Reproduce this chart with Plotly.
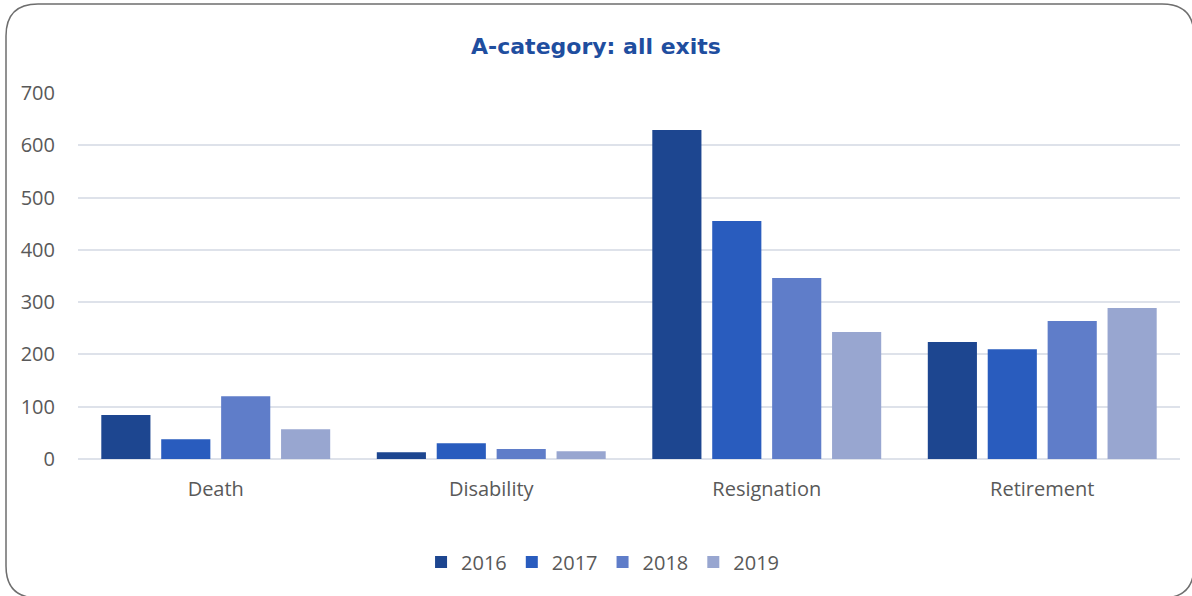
import plotly.graph_objects as go

categories = ["Death", "Disability", "Resignation", "Retirement"]
years = ["2016", "2017", "2018", "2019"]
v2016 = [84, 13, 629, 224]
v2017 = [38, 30, 455, 210]
v2018 = [120, 19, 346, 264]
v2019 = [57, 15, 243, 289]
y_ticks = [0, 100, 200, 300, 400, 500, 600, 700]

series = [v2016, v2017, v2018, v2019]
colors = ["#1D4690", "#295CBE", "#5F7DC9", "#98A6D0"]

W, H = 1192, 596
L, R, T, B = 78, 12, 93, 137
PW, PH = W - L - R, H - T - B

def px(x):
    return (x - L) / PW

def py(y):
    return (H - B - y) / PH

fig = go.Figure()
for name, vals, c in zip(years, series, colors):
    fig.add_trace(go.Bar(
        x=categories, y=vals, name=name,
        marker=dict(color=c, line=dict(width=0)),
    ))

# rounded border
x0, y0, x1, y1, r = 6, 4, 1194, 598, 32
path = (
    f"M {px(x0+r)},{py(y0)} L {px(x1-r)},{py(y0)} "
    f"Q {px(x1)},{py(y0)} {px(x1)},{py(y0+r)} "
    f"L {px(x1)},{py(y1-r)} Q {px(x1)},{py(y1)} {px(x1-r)},{py(y1)} "
    f"L {px(x0+r)},{py(y1)} Q {px(x0)},{py(y1)} {px(x0)},{py(y1-r)} "
    f"L {px(x0)},{py(y0+r)} Q {px(x0)},{py(y0)} {px(x0+r)},{py(y0)} Z"
)
fig.add_shape(type="path", path=path, xref="paper", yref="paper",
              line=dict(color="#6E6E6E", width=1.5), layer="above")

fig.update_layout(
    width=W, height=H,
    margin=dict(l=L, r=R, t=T, b=B),
    paper_bgcolor="white", plot_bgcolor="white",
    font=dict(family="Open Sans, sans-serif", color="#595959", size=20),
    title=dict(text="<b>A-category: all exits</b>", x=0.5, xanchor="center",
               y=1 - 46 / H, yanchor="middle",
               font=dict(family="DejaVu Sans, sans-serif", size=22, color="#1F4E9F")),
    barmode="group", bargap=0.13, bargroupgap=0.18,
    showlegend=True,
    legend=dict(orientation="h", x=0.476, xanchor="center", y=py(562), yanchor="middle",
                font=dict(size=20, color="#595959"), itemwidth=30,
                traceorder="normal"),
    xaxis=dict(showgrid=False, showline=False, ticks="", ticklabelstandoff=16,
               tickfont=dict(size=20, color="#595959")),
    yaxis=dict(range=[0, 700], tickvals=y_ticks, showgrid=True, gridcolor="#DEE2EA",
               gridwidth=2, zeroline=True, zerolinecolor="#DEE2EA", zerolinewidth=2,
               showline=False, ticks="", ticklabelstandoff=22,
               tickfont=dict(size=20, color="#595959")),
)

fig.write_html("out.html")
